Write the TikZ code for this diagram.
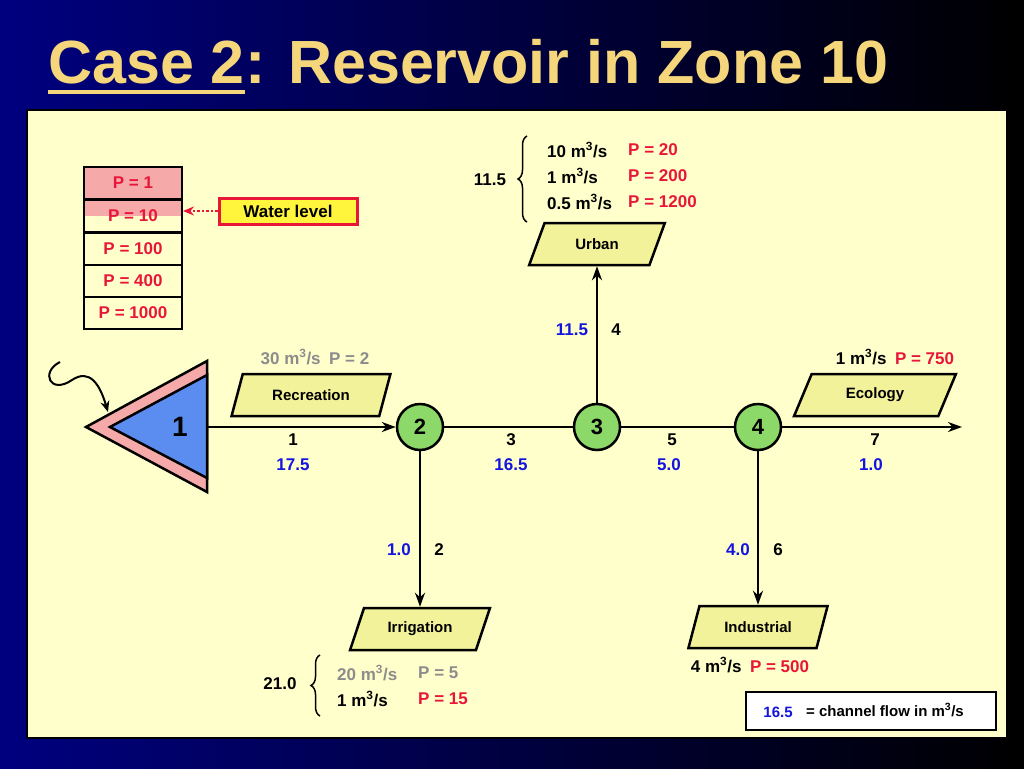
\documentclass[tikz,border=0pt]{standalone}
\usepackage{fontspec}
\setmainfont{Liberation Sans}
\usetikzlibrary{shapes.geometric,decorations.pathreplacing,decorations.pathmorphing,arrows.meta}
\definecolor{panel}{HTML}{FFFFCC}
\definecolor{titlec}{HTML}{F5D67A}
\definecolor{pinkc}{HTML}{F5A9A9}
\definecolor{bluec}{HTML}{5B8CF0}
\definecolor{greenc}{HTML}{8CD96A}
\definecolor{redc}{HTML}{E8173A}
\definecolor{flowc}{HTML}{1414E0}
\definecolor{grayc}{HTML}{8C8C8C}
\definecolor{paraf}{HTML}{F2F29A}
\begin{document}
\begin{tikzpicture}[x=1pt,y=-1pt,
  txt/.style={font=\fontsize{17}{20}\selectfont\bfseries, inner sep=0pt},
  small/.style={font=\fontsize{15}{18}\selectfont\bfseries, inner sep=0pt},
  flow/.style={txt, text=flowc},
  junc/.style={circle, draw, line width=2.5pt, fill=greenc, minimum size=46pt, inner sep=0pt, font=\fontsize{22}{24}\selectfont\bfseries},
  para/.style={trapezium, trapezium left angle=60, trapezium right angle=120, draw, line width=2.5pt, fill=paraf, minimum height=42pt, trapezium stretches=true, small},
  link/.style={line width=2.5pt},
  arr/.style={link, -{Stealth[length=14pt,width=10pt]}},
  pcell/.style={draw, line width=2pt, minimum width=98pt, minimum height=32pt, text=redc, txt}
]
\useasboundingbox (0,0) rectangle (1024,768);
\shade[left color=blue!50!black, right color=black] (0,0) rectangle (1024,768);
\node[anchor=base west, text=titlec, font=\fontsize{61}{66}\selectfont\bfseries, inner sep=0pt] (t1) at (48,83) {Case 2};
\node[anchor=base west, text=titlec, font=\fontsize{61}{66}\selectfont\bfseries, inner sep=0pt] (t2) at (t1.base east) {: Reservoir in Zone 10};
\draw[titlec, line width=3.5pt] ([yshift=-9pt]t1.base west) -- ([yshift=-9pt]t1.base east);
\draw[fill=panel, line width=2pt] (27,110) rectangle (1007,738);

% priority stack
\node[pcell, fill=pinkc] (p1) at (133,183) {P = 1};
\fill[pinkc] (84,199) rectangle (182,216);
\node[pcell] (p10) at (133,216) {P = 10};
\node[pcell] (p100) at (133,249) {P = 100};
\node[pcell] (p400) at (133,281) {P = 400};
\node[pcell] (p1000) at (133,313) {P = 1000};
\node[draw=redc, line width=3pt, fill=yellow!70!panel, minimum width=138pt, minimum height=26pt, txt] (wl) at (288,211) {Water level};
\draw[redc, line width=2.5pt, dotted, -{Stealth[length=11pt,width=9pt]}] (wl.west) -- (p10.east |- wl.west);

% reservoir
\draw[fill=pinkc, line width=2.5pt] (86,427) -- (207,361) -- (207,492) -- cycle;
\draw[fill=bluec, line width=2.5pt] (110,427) -- (207,375) -- (207,478) -- cycle;
\node[font=\fontsize{28}{30}\selectfont\bfseries] (r1) at (180,427) {1};
\coordinate (rout) at (207,427);
\coordinate (win) at (60,362);
\coordinate (wend) at (108,412);
\draw[line width=2pt, -{Stealth[length=11pt,width=9pt]}] (win) .. controls (40,372) and (50,395) .. (72,380) .. controls (90,368) and (100,385) .. (wend);

% junctions
\node[junc] (n2) at (420,427) {2};
\node[junc] (n3) at (597,427) {3};
\node[junc] (n4) at (758,427) {4};
\coordinate (outend) at (962,427);

% demand nodes
\node[para, minimum width=160pt] (rec) at (311,395) {Recreation};
\node[para, minimum width=162pt] (eco) at (875,395) {Ecology};
\node[para, minimum width=136pt] (urb) at (597,244) {Urban};
\node[para, minimum width=140pt] (irr) at (420,629) {Irrigation};
\node[para, minimum width=140pt] (ind) at (758,627) {Industrial};

% links
\draw[arr] (rout) -- (n2);
\draw[link] (n2) -- (n3);
\draw[link] (n3) -- (n4);
\draw[arr] (n4) -- (outend);
\draw[arr] (n3) -- (urb);
\draw[arr] (n2) -- (irr);
\draw[arr] (n4) -- (ind);

% link labels
\node[txt] (l1) at (293,440) {1};  \node[flow] (f1) at (293,465) {17.5};
\node[txt] (l3) at (511,440) {3};  \node[flow] (f3) at (511,465) {16.5};
\node[txt] (l5) at (672,440) {5};  \node[flow] (f5) at (669,465) {5.0};
\node[txt] (l7) at (875,440) {7};  \node[flow] (f7) at (871,465) {1.0};
\node[flow] (f2) at (399,550) {1.0}; \node[txt] (l2) at (439,550) {2};
\node[flow] (f6) at (738,550) {4.0}; \node[txt] (l6) at (778,550) {6};
\node[flow] (f4) at (572,330) {11.5}; \node[txt] (l4) at (616,330) {4};

% demand texts
\node[txt, text=grayc] (rect) at (315,357) {30 m\textsuperscript{3}/s\enspace P = 2};
\node[txt] (ecot) at (895,357) {1 m\textsuperscript{3}/s\enspace\textcolor{redc}{P = 750}};
\node[txt] (indt) at (750,665) {4 m\textsuperscript{3}/s\enspace\textcolor{redc}{P = 500}};

\node[txt] (urbtot) at (490,180) {11.5};
\draw[line width=1.5pt, decorate, decoration={brace, amplitude=9pt}] (527,222) -- (527,136);
\node[txt, anchor=west] (u1) at (547,150) {10 m\textsuperscript{3}/s};
\node[txt, anchor=west] (u2) at (547,176) {1 m\textsuperscript{3}/s};
\node[txt, anchor=west] (u3) at (547,202) {0.5 m\textsuperscript{3}/s};
\node[txt, anchor=west, text=redc] (up1) at (628,150) {P = 20};
\node[txt, anchor=west, text=redc] (up2) at (628,176) {P = 200};
\node[txt, anchor=west, text=redc] (up3) at (628,202) {P = 1200};

\node[txt] (irrtot) at (280,684) {21.0};
\draw[line width=1.5pt, decorate, decoration={brace, amplitude=9pt}] (320,716) -- (320,655);
\node[txt, anchor=west, text=grayc] (i1) at (337,673) {20 m\textsuperscript{3}/s};
\node[txt, anchor=west] (i2) at (337,699) {1 m\textsuperscript{3}/s};
\node[txt, anchor=west, text=grayc] (ip1) at (418,673) {P = 5};
\node[txt, anchor=west, text=redc] (ip2) at (418,699) {P = 15};

% legend
\draw[fill=white, line width=1.5pt] (746,692) rectangle (996,730);
\node[small, text=flowc] (lg1) at (778,712) {16.5};
\node[small, anchor=west] (lg2) at (806,710) {= channel flow in m\textsuperscript{3}/s};
\end{tikzpicture}
\end{document}
